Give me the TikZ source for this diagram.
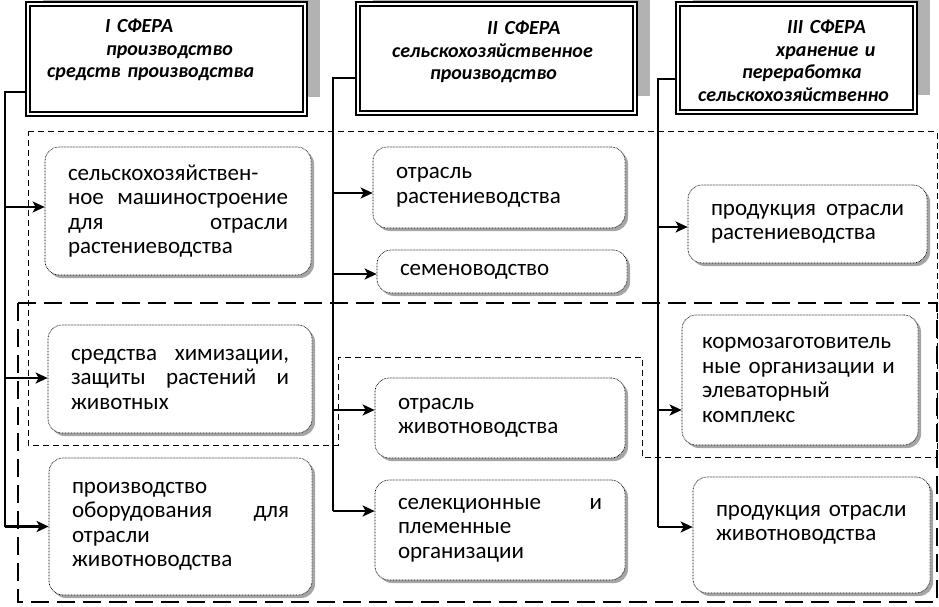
\documentclass[tikz,border=0pt]{standalone}
\usepackage{fontspec}
\setmainfont{Carlito}
\usetikzlibrary{arrows.meta,shadows}

\begin{document}
\begin{tikzpicture}[x=1pt,y=-1pt,
    sphere/.style={draw, line width=2.1pt, double=white, double distance=2.6pt, fill=white, inner sep=0pt,
        general shadow={fill=black!30, shadow xshift=15pt, shadow yshift=17pt}},
    spheretext/.style={font=\fontsize{20}{22.5}\selectfont\bfseries\itshape, align=left, inner sep=0pt, anchor=base west},
    card/.style={draw, line width=0.7pt, dash pattern=on 0.7pt off 0.8pt, rounded corners=14pt, fill=white,
        drop shadow={shadow xshift=3pt, shadow yshift=-3pt, fill=black!70, opacity=0.5},
        inner xsep=23pt, inner ysep=0pt, align=left, font=\fontsize{23}{24.5}\selectfont},
    spine/.style={line width=2.8pt},
    feed/.style={line width=2.4pt, -{Stealth[length=12pt,width=11pt,inset=3pt]}},
    thinzone/.style={line width=1pt, dash pattern=on 6pt off 4pt},
    thickzone/.style={line width=2.6pt, dash pattern=on 18pt off 8pt}]

    \useasboundingbox (0,0) rectangle (939,607);
    \clip (0,0) rectangle (939,607);

    % zones
    \draw[thinzone] (28,132) -- (937,132) -- (937,457) -- (642,457) -- (642,357)
        -- (338,357) -- (338,445) -- (28,445) -- cycle;
    \draw[thickzone] (18,303) rectangle (937,602);

    % spheres
    \node[sphere, minimum width=277pt, minimum height=110pt] (h1) at (166.5,59) {};
    \node[sphere, minimum width=277pt, minimum height=109pt] (h2) at (496.5,58.5) {};
    \node[sphere, minimum width=237pt, minimum height=108pt] (h3) at (796.5,58) {};

    \node[spheretext, text width=240pt] (t1) at (47,33)
        {\hspace*{58pt}I СФЕРА\\ \hspace*{59pt}производство\\ средств производства};
    \node[spheretext, text width=240pt] (t2) at (392,35)
        {\hspace*{95pt}II СФЕРА\\ сельскохозяйственное\\ \hspace*{38pt}производство};
    \node[spheretext, text width=220pt] (t3) at (698,34)
        {\hspace*{89pt}III СФЕРА\\ \hspace*{78pt}хранение и\\ \hspace*{44pt}переработка\\ сельскохозяйственно};

    % I
    \node[card, text width=220pt, minimum height=128pt] (a1) at (178,211)
        {сельскохозяйствен-\\ ное\hfill машиностроение\\ для\hfill отрасли\\ растениеводства};
    \node[card, text width=218pt, minimum height=108pt] (a2) at (180,379)
        {средства\hfill химизации,\\ защиты\hfill растений\hfill и\\ животных};
    \node[card, text width=217pt, minimum height=137pt] (a3) at (180.5,526.5)
        {производство\\ оборудования\hfill для\\ отрасли\\ животноводства};

    % II
    \node[card, text width=206pt, minimum height=81pt] (b1) at (499,187.5)
        {отрасль\\ растениеводства};
    \node[card, text width=204pt, minimum height=43pt] (b2) at (502,271.5)
        {семеноводство};
    \node[card, text width=204pt, minimum height=80pt] (b3) at (500,418)
        {отрасль\\ животноводства};
    \node[card, text width=204pt, minimum height=100pt] (b4) at (500,530)
        {селекционные\hfill и\\ племенные\\ организации};

    % III
    \node[card, text width=193pt, minimum height=78pt] (c1) at (807.5,224)
        {продукция\hfill отрасли\\ растениеводства};
    \node[card, inner xsep=20pt, text width=196pt, minimum height=130pt] (c2) at (800,380)
        {\mbox{кормозаготовитель}\\ \mbox{ные организации и}\\ элеваторный\\ комплекс};
    \node[card, inner xsep=20pt, text width=197pt, minimum height=116pt] (c3) at (811.5,535)
        {\hspace*{3pt}\mbox{продукция отрасли}\\ \hspace*{3pt}животноводства\\ \mbox{}};

    % connectors
    \coordinate (s1) at (5,92);
    \coordinate (s2) at (333,78);
    \coordinate (s3) at (658,79);

    \foreach \b/\dy in {a1/4, a2/1, a3/0, b1/-5.5, b2/-2.5, b3/8, b4/19, c1/-3, c2/-30, c3/8}
        \coordinate (\b-in) at ([yshift=\dy pt]\b.west);

    \draw[spine] (h1.west |- s1) -- (s1) -- (s1 |- a3-in);
    \draw[spine] (h2.west |- s2) -- (s2) -- (s2 |- b4-in);
    \draw[spine] (h3.west |- s3) -- (s3) -- (s3 |- c3-in);

    \foreach \b in {a1, a2, a3}
        \draw[feed] (s1 |- \b-in) -- (\b-in);
    \foreach \b in {b1, b2, b3, b4}
        \draw[feed] (s2 |- \b-in) -- (\b-in);
    \foreach \b in {c1, c2, c3}
        \draw[feed] (s3 |- \b-in) -- (\b-in);

\end{tikzpicture}
\end{document}
